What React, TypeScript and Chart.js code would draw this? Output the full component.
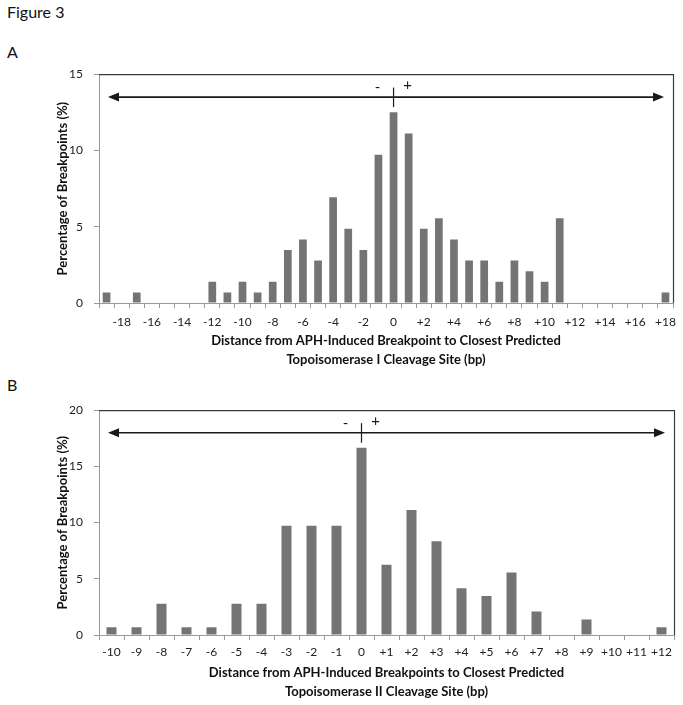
import React, { useEffect, useRef } from 'react';
import { Chart, registerables } from 'chart.js';

Chart.register(...registerables);

// ---------- Data ----------
const topCategories = ['-19','-18','-17','-16','-15','-14','-13','-12','-11','-10','-9','-8','-7','-6','-5','-4','-3','-2','-1','0','+1','+2','+3','+4','+5','+6','+7','+8','+9','+10','+11','+12','+13','+14','+15','+16','+17','+18'];
const topTickLabels = ['','-18','','-16','','-14','','-12','','-10','','-8','','-6','','-4','','-2','','0','','+2','','+4','','+6','','+8','','+10','','+12','','+14','','+16','','+18'];
const topValues = [0.69,0,0.69,0,0,0,0,1.39,0.69,1.39,0.69,1.39,3.47,4.17,2.78,6.94,4.86,3.47,9.72,12.5,11.11,4.86,5.56,4.17,2.78,2.78,1.39,2.78,2.08,1.39,5.56,0,0,0,0,0,0,0.69];
const topYTicks = [0, 5, 10, 15];
const topXTitle = ['Distance from APH-Induced Breakpoint to Closest Predicted', 'Topoisomerase I Cleavage Site (bp)'];

const bottomCategories = ['-10','-9','-8','-7','-6','-5','-4','-3','-2','-1','0','+1','+2','+3','+4','+5','+6','+7','+8','+9','+10','+11','+12'];
const bottomTickLabels = bottomCategories;
const bottomValues = [0.69,0.69,2.78,0.69,0.69,2.78,2.78,9.72,9.72,9.72,16.67,6.25,11.11,8.33,4.17,3.47,5.56,2.08,0,1.39,0,0,0.69];
const bottomYTicks = [0, 5, 10, 15, 20];
const bottomXTitle = ['Distance from APH-Induced Breakpoints to Closest Predicted', 'Topoisomerase II Cleavage Site (bp)'];

const yTitle = 'Percentage of Breakpoints (%)';
const FONT = 'Lato, "Open Sans", sans-serif';

type Cfg = {
  categories: string[];
  tickLabels: string[];
  values: number[];
  yTicks: number[];
  xTitle: string[];
  arrowY: number;
  padTop: number;
  padRight: number;
  xHeight: number;
  barPct: number;
  tickPad: number;
  titlePadBottom: number;
  arrowInset: number;
};

const framePlugin = {
  id: 'frameArrow',
  afterDatasetsDraw(chart: any) {
    const cfg = chart.options.plugins.frameArrow;
    const { ctx, chartArea, scales } = chart;
    ctx.save();
    // frame top & right
    ctx.strokeStyle = '#3a3a3a';
    ctx.lineWidth = 1.2;
    ctx.beginPath();
    ctx.moveTo(chartArea.left, chartArea.top + 0.5);
    ctx.lineTo(chartArea.right + 0.5, chartArea.top + 0.5);
    ctx.lineTo(chartArea.right + 0.5, chartArea.bottom);
    ctx.stroke();
    // arrow
    const y = scales.y.getPixelForValue(cfg.arrowY);
    const x1 = chartArea.left + cfg.inset;
    const x2 = chartArea.right - cfg.inset;
    ctx.strokeStyle = '#1a1a1a';
    ctx.fillStyle = '#1a1a1a';
    ctx.lineWidth = 1.6;
    ctx.beginPath();
    ctx.moveTo(x1 + 6, y);
    ctx.lineTo(x2 - 6, y);
    ctx.stroke();
    const head = 11, half = 4.5;
    ctx.beginPath();
    ctx.moveTo(x1, y);
    ctx.lineTo(x1 + head, y - half);
    ctx.lineTo(x1 + head, y + half);
    ctx.closePath();
    ctx.fill();
    ctx.beginPath();
    ctx.moveTo(x2, y);
    ctx.lineTo(x2 - head, y - half);
    ctx.lineTo(x2 - head, y + half);
    ctx.closePath();
    ctx.fill();
    // zero tick
    const x0 = scales.x.getPixelForValue(cfg.zeroIndex);
    ctx.lineWidth = 1.2;
    ctx.beginPath();
    ctx.moveTo(x0, y - 9.5);
    ctx.lineTo(x0, y + 10);
    ctx.stroke();
    ctx.font = '15px ' + FONT;
    ctx.textAlign = 'center';
    ctx.textBaseline = 'middle';
    ctx.fillText('-', x0 - 16, y - 10);
    ctx.fillText('+', x0 + 14, y - 12);
    ctx.restore();
  },
};

function BarChart({ cfg, top, height }: { cfg: Cfg; top: number; height: number }) {
  const ref = useRef<HTMLCanvasElement>(null);
  useEffect(() => {
    if (!ref.current) return;
    const ymax = cfg.yTicks[cfg.yTicks.length - 1];
    const chart = new Chart(ref.current, {
      type: 'bar',
      data: {
        labels: cfg.categories,
        datasets: [
          {
            data: cfg.values,
            backgroundColor: '#747474',
            borderWidth: 0,
            barPercentage: cfg.barPct,
            categoryPercentage: 1,
          },
        ],
      },
      options: {
        responsive: false,
        animation: false,
        devicePixelRatio: 1,
        layout: { padding: { top: cfg.padTop, right: cfg.padRight, left: 0, bottom: 0 } },
        plugins: {
          legend: { display: false },
          tooltip: { enabled: false },
          frameArrow: { arrowY: cfg.arrowY, inset: cfg.arrowInset, zeroIndex: cfg.categories.indexOf('0') },
        } as any,
        scales: {
          x: {
            offset: true,
            grid: { offset: true, drawOnChartArea: false, drawTicks: true, tickLength: 5, color: '#9a9a9a' },
            border: { color: '#9a9a9a', width: 1 },
            ticks: {
              autoSkip: false,
              maxRotation: 0,
              minRotation: 0,
              padding: cfg.tickPad,
              color: '#222',
              font: { family: FONT, size: 12 },
              callback: (_v: any, i: number) => cfg.tickLabels[i],
            },
            title: {
              display: true,
              text: cfg.xTitle,
              color: '#111',
              font: { family: FONT, size: 13, weight: 'bold', lineHeight: 1.45 },
              padding: { top: 0, bottom: cfg.titlePadBottom },
            },
            afterFit: (s: any) => {
              s.height = cfg.xHeight;
            },
          },
          y: {
            min: 0,
            max: ymax,
            afterBuildTicks: (s: any) => {
              s.ticks = cfg.yTicks.map((v) => ({ value: v }));
            },
            grid: { drawOnChartArea: false, drawTicks: true, tickLength: 5, color: '#9a9a9a' },
            border: { color: '#9a9a9a', width: 1 },
            ticks: {
              padding: 11,
              color: '#222',
              font: { family: FONT, size: 12 },
            },
            title: {
              display: true,
              text: yTitle,
              color: '#111',
              font: { family: FONT, size: 13, weight: 'bold', lineHeight: 1.2 },
              padding: { top: 55, bottom: 0 },
            },
            afterFit: (s: any) => {
              s.width = 99;
            },
          },
        },
      },
      plugins: [framePlugin],
    });
    return () => chart.destroy();
  }, []);
  return (
    <canvas
      ref={ref}
      width={683}
      height={height}
      style={{ position: 'absolute', left: 0, top, width: 683, height }}
    />
  );
}

const topCfg: Cfg = {
  categories: topCategories,
  tickLabels: topTickLabels,
  values: topValues,
  yTicks: topYTicks,
  xTitle: topXTitle,
  arrowY: 13.5,
  padTop: 10,
  padRight: 8,
  xHeight: 71,
  barPct: 0.51,
  tickPad: 7,
  titlePadBottom: 5,
  arrowInset: 9,
};

const bottomCfg: Cfg = {
  categories: bottomCategories,
  tickLabels: bottomTickLabels,
  values: bottomValues,
  yTicks: bottomYTicks,
  xTitle: bottomXTitle,
  arrowY: 18,
  padTop: 15,
  padRight: 9,
  xHeight: 70,
  barPct: 0.4,
  tickPad: 5,
  titlePadBottom: 4,
  arrowInset: 9,
};

const labelStyle: React.CSSProperties = {
  position: 'absolute',
  left: 7,
  fontFamily: FONT,
  color: '#111',
  lineHeight: 1,
  margin: 0,
};

export default function App() {
  return (
    <div style={{ position: 'absolute', left: 0, top: 0, width: 683, height: 705, background: '#fff', overflow: 'hidden' }}>
      <div style={{ ...labelStyle, top: 4, fontSize: 16 }}>Figure 3</div>
      <div style={{ ...labelStyle, top: 44, fontSize: 16 }}>A</div>
      <BarChart cfg={topCfg} top={56} height={318} />
      <div style={{ ...labelStyle, top: 377, fontSize: 16 }}>B</div>
      <BarChart cfg={bottomCfg} top={392} height={313} />
    </div>
  );
}
